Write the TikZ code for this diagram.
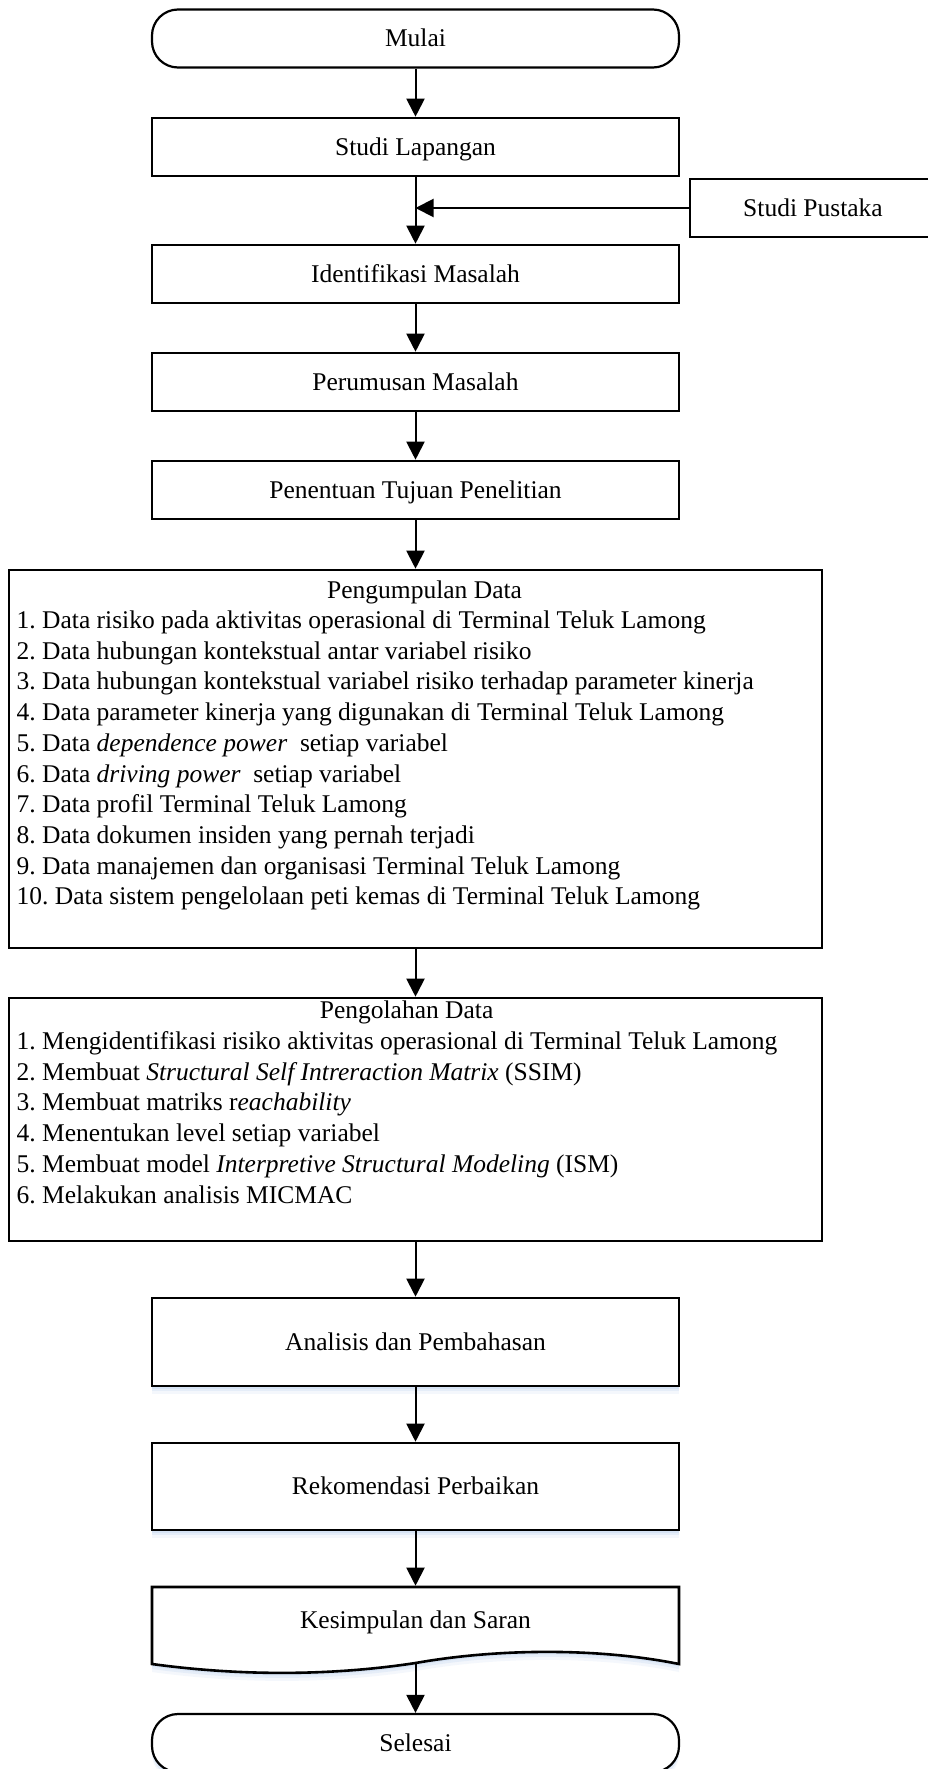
\documentclass[tikz,border=0pt]{standalone}
\usepackage{fontspec}
\setmainfont{Liberation Serif}
\usetikzlibrary{arrows.meta,shadows}

\definecolor{glowblue}{RGB}{196,216,240}
\newcommand\boxfont{\fontsize{25.5}{30.7}\selectfont\frenchspacing}

\tikzset{
  boxline/.style={draw=black, line width=2.6pt},
  glow/.style={
    drop shadow={shadow xshift=0pt, shadow yshift=-8pt, fill=glowblue, opacity=.18},
    drop shadow={shadow xshift=0pt, shadow yshift=-5pt, fill=glowblue, opacity=.3},
    drop shadow={shadow xshift=0pt, shadow yshift=-2.5pt, fill=glowblue, opacity=.45}},
  box/.style={boxline, fill=white, rectangle, inner sep=0pt,
    minimum width=527pt, minimum height=58pt,
    text height=16.9pt, text depth=0pt, font=\boxfont},
  term/.style={box, line width=2.2pt, rounded corners=26pt},
  listtext/.style={anchor=base west, inner sep=0pt, font=\boxfont},
  listtitle/.style={anchor=base, inner sep=0pt, font=\boxfont},
  flow/.style={line width=2pt, -{Triangle[length=18pt, width=18pt]}}
}

\begin{document}
\begin{tikzpicture}[x=1pt, y=-1pt]
\fill[white] (0,0) rectangle (927,1769);
\useasboundingbox (0,0) rectangle (927,1769);

% upper chain of steps
\node[term] (mulai) at (415.5,38.5) {Mulai};
\node[box] (lap) at (415.5,147) {Studi Lapangan};
\node[box, minimum width=246pt] (pustaka) at (813,208) {Studi Pustaka};
\node[box] (ident) at (415.5,274) {Identifikasi Masalah};
\node[box] (rumus) at (415.5,382) {Perumusan Masalah};
\node[box] (tujuan) at (415.5,490) {Penentuan Tujuan Penelitian};

% data collection
\node[box, minimum width=813pt, minimum height=378pt] (kumpul) at (415.5,759) {};
\node[listtitle] (kumpulT) at (424.6,598) {Pengumpulan Data};
\node[listtext] (k1) at (16.5,628.5) {1. Data risiko pada aktivitas operasional di Terminal Teluk Lamong};
\node[listtext] (k2) at (16.5,659.2) {2. Data hubungan kontekstual antar variabel risiko};
\node[listtext] (k3) at (16.5,689.9) {3. Data hubungan kontekstual variabel risiko terhadap parameter kinerja};
\node[listtext] (k4) at (16.5,720.6) {4. Data parameter kinerja yang digunakan di Terminal Teluk Lamong};
\node[listtext] (k5) at (16.5,751.3) {5. Data \textit{dependence power}\ \ setiap variabel};
\node[listtext] (k6) at (16.5,782) {6. Data \textit{driving power}\ \ setiap variabel};
\node[listtext] (k7) at (16.5,812.7) {7. Data profil Terminal Teluk Lamong};
\node[listtext] (k8) at (16.5,843.4) {8. Data dokumen insiden yang pernah terjadi};
\node[listtext] (k9) at (16.5,874.1) {9. Data manajemen dan organisasi Terminal Teluk Lamong};
\node[listtext] (k10) at (16.5,904.8) {10. Data sistem pengelolaan peti kemas di Terminal Teluk Lamong};

% data processing
\node[box, minimum width=813pt, minimum height=243pt] (olah) at (415.5,1119.5) {};
\node[listtitle] (olahT) at (406.6,1018) {Pengolahan Data};
\node[listtext] (o1) at (16.5,1049.5) {1. Mengidentifikasi risiko aktivitas operasional di Terminal Teluk Lamong};
\node[listtext] (o2) at (16.5,1080.2) {2. Membuat \textit{Structural Self Intreraction Matrix} (SSIM)};
\node[listtext] (o3) at (16.5,1110.9) {3. Membuat matriks r\textit{eachability}};
\node[listtext] (o4) at (16.5,1141.6) {4. Menentukan level setiap variabel};
\node[listtext] (o5) at (16.5,1172.3) {5. Membuat model \textit{Interpretive Structural Modeling} (ISM)};
\node[listtext] (o6) at (16.5,1203) {6. Melakukan analisis MICMAC};

% lower chain of steps
\node[box, glow, minimum height=88pt] (analisis) at (415.5,1342) {Analisis dan Pembahasan};
\node[box, glow, minimum height=87pt] (rekom) at (415.5,1486.5) {Rekomendasi Perbaikan};

% document shape with a wavy lower edge
\draw[boxline, fill=white, glow] (152,1587) -- (679,1587) -- (679,1664)
  .. controls (600,1648) and (500,1648) .. (415.5,1663)
  .. controls (330,1676) and (240,1676) .. (152,1664) -- cycle;
\node[box, draw=none, fill=none, minimum height=66pt] (kes) at (415.5,1620) {Kesimpulan dan Saran};
\coordinate (kesbot) at (415.5,1663);

\node[term, glow] (selesai) at (415.5,1743) {Selesai};

% connectors
\draw[flow] (mulai) -- (lap);
\draw[flow] (lap) -- (ident);
\draw[flow] (pustaka.west) -- (pustaka.west -| lap.south);
\draw[flow] (ident) -- (rumus);
\draw[flow] (rumus) -- (tujuan);
\draw[flow] (tujuan) -- (kumpul);
\draw[flow] (kumpul) -- (olah);
\draw[flow] (olah) -- (analisis);
\draw[flow] (analisis) -- (rekom);
\draw[flow] (rekom) -- (kes);
\draw[flow] (kesbot) -- (selesai);
\end{tikzpicture}
\end{document}
